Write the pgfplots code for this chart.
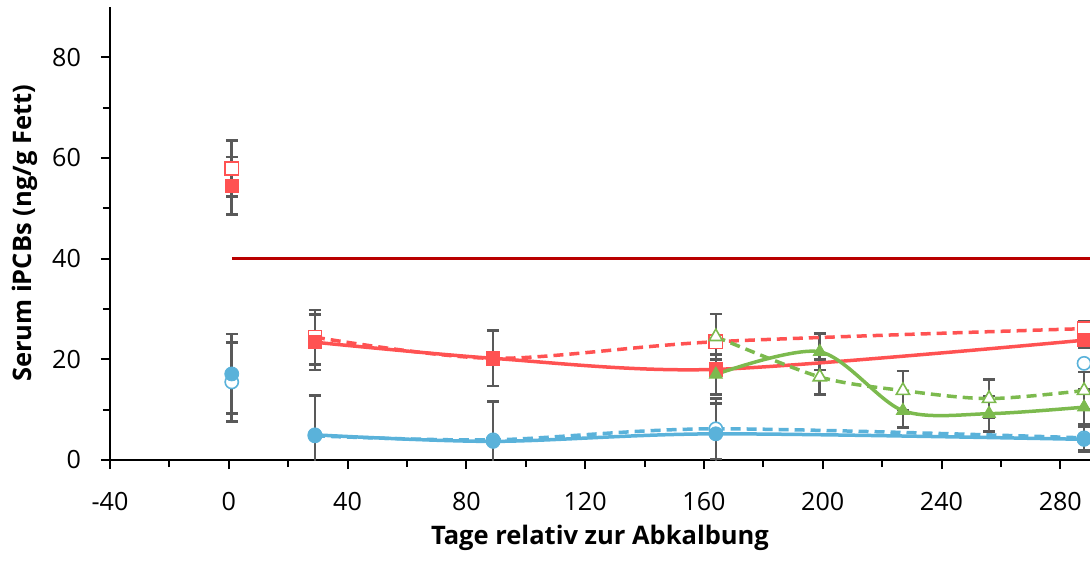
\documentclass[border=0pt]{standalone}
\usepackage{pgfplots}
\pgfplotsset{compat=1.18}
\usepackage{pgfplotstable}
\usepackage{fontspec}
\setmainfont{Open Sans}
\definecolor{cred}{RGB}{255,82,82}
\definecolor{cblue}{RGB}{90,178,218}
\definecolor{cgreen}{RGB}{124,186,78}
\definecolor{dred}{RGB}{185,0,0}
\definecolor{errgray}{RGB}{89,89,89}

\pgfplotstableread{
x y e
1 54.5 5.7
29 23.4 5.5
89 20.2 5.5
164 18.0 5.0
288 23.8 1.5
}\redfilled
\pgfplotstableread{
x y e
1 57.9 5.6
29 24.4 5.4
89 20.2 5.5
164 23.5 5.5
288 26.1 1.5
}\redopen
\pgfplotstableread{
x y e
1 17.1 7.9
29 5.0 7.7
89 3.7 8.0
164 5.2 6.0
288 4.1 2.5
}\bluefilled
\pgfplotstableread{
x y e
1 15.5 7.9
29 4.8 8.0
89 4.0 7.5
164 6.2 6.0
288 4.4 2.5
}\blueopen
\pgfplotstableread{
x y e
164 17.0 4.0
199 21.5 3.6
227 9.8 3.4
256 9.2 3.5
288 10.5 3.5
}\greenfilled
\pgfplotstableread{
x y e
164 24.5 4.5
199 16.5 3.5
227 13.8 3.9
256 12.2 3.8
288 13.8 3.7
}\greenopen

\pgfplotsset{errb/.style={forget plot, draw=none, mark=none,
  error bars/.cd, y dir=both, y explicit,
  error bar style={draw=errgray, solid, line width=1.3bp},
  error mark options={draw=errgray, solid, line width=1.3bp, mark size=3bp, rotate=90}}}

\begin{document}
\begin{tikzpicture}
\begin{axis}[
  name=ax,
  scale only axis,
  width=490bp, height=226.5bp,
  xmin=-40, xmax=290, ymin=0, ymax=90,
  axis x line=bottom, axis y line=left,
  axis line style={-, black, line width=1bp},
  xtick={-40,0,40,80,120,160,200,240,280},
  xticklabels={-40,0,40,80,120,160,200,240,280},
  ytick={0,20,40,60,80},
  yticklabels={0,20,40,60,80},
  minor x tick num=1, minor y tick num=1,
  tick align=outside,
  major tick length=4.5bp, minor tick length=3.5bp,
  tick style={black, line width=1bp},
  ticklabel style={font=\fontsize{12.6}{15}\selectfont},
  xticklabel style={anchor=base, yshift=-20.5bp},
  yticklabel style={anchor=east, xshift=-6.5bp},
  xlabel={Tage relativ zur Abkalbung},
  ylabel={Serum iPCBs (ng/g Fett)},
  every axis x label/.style={at={(axis description cs:0.5,0)}, anchor=base, yshift=-42bp, font=\fontsize{12.8}{15}\selectfont\bfseries},
  every axis y label/.style={at={(axis description cs:0,0.5)}, rotate=90, anchor=base, yshift=39bp, font=\fontsize{12.8}{15}\selectfont\bfseries},
  clip=true,
]
% error bars
\addplot[errb] table[x=x, y=y, y error=e] {\redfilled};
\addplot[errb] table[x=x, y=y, y error=e] {\redopen};
\addplot[errb] table[x=x, y=y, y error=e] {\bluefilled};
\addplot[errb] table[x=x, y=y, y error=e] {\blueopen};
\addplot[errb] table[x=x, y=y, y error=e] {\greenfilled};
\addplot[errb] table[x=x, y=y, y error=e] {\greenopen};
% reference line
\addplot[dred, line width=1.5bp] coordinates {(1,40) (290,40)};
% lines
\addplot[cred, line width=1.75bp, smooth] table[x=x,y=y, skip coords between index={0}{1}] {\redfilled};
\addplot[cred, line width=1.75bp, smooth, dash pattern=on 5bp off 3bp] table[x=x,y=y, skip coords between index={0}{1}] {\redopen};
\addplot[cblue, line width=1.75bp, smooth] table[x=x,y=y, skip coords between index={0}{1}] {\bluefilled};
\addplot[cblue, line width=1.75bp, smooth, dash pattern=on 5bp off 3bp] table[x=x,y=y, skip coords between index={0}{1}] {\blueopen};
\addplot[cgreen, line width=1.75bp, smooth] table[x=x,y=y] {\greenfilled};
\addplot[cgreen, line width=1.75bp, smooth, dash pattern=on 5bp off 3bp] table[x=x,y=y] {\greenopen};
% markers
\addplot[only marks, mark=square*, mark size=3.3bp, mark options={draw=cred, fill=white, line width=0.8bp}] table[x=x,y=y] {\redopen};
\addplot[only marks, mark=square*, mark size=3.3bp, mark options={draw=cred, fill=cred}] table[x=x,y=y] {\redfilled};
\addplot[only marks, mark=*, mark size=3.3bp, mark options={draw=cblue, fill=white, line width=0.8bp}] table[x=x,y=y] {\blueopen};
\addplot[only marks, mark=*, mark size=3.3bp, mark options={draw=cblue, fill=white, line width=0.8bp}] coordinates {(288,19.2)};
\addplot[only marks, mark=*, mark size=3.5bp, mark options={draw=cblue, fill=cblue}] table[x=x,y=y] {\bluefilled};
\addplot[only marks, mark=triangle*, mark size=3.8bp, mark options={draw=cgreen, fill=white, line width=0.8bp}] table[x=x,y=y] {\greenopen};
\addplot[only marks, mark=triangle*, mark size=3.8bp, mark options={draw=cgreen, fill=cgreen}] table[x=x,y=y] {\greenfilled};
\end{axis}
\pgfresetboundingbox
\path[use as bounding box] ([xshift=-55bp,yshift=-51bp]ax.south west) rectangle ([yshift=3.5bp]ax.north east);
\end{tikzpicture}
\end{document}
